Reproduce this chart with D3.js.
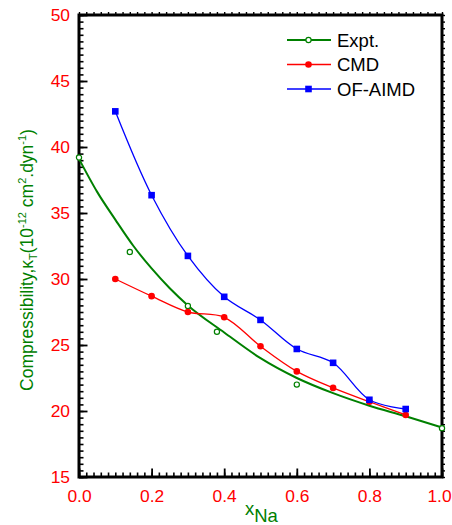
<!DOCTYPE html>
<html>
<head>
<meta charset="utf-8">
<script src="https://cdn.jsdelivr.net/npm/d3@7/dist/d3.min.js"></script>
<style>
  html, body { margin: 0; padding: 0; background: #fff; }
  svg { display: block; font-family: "Liberation Sans", Arial, sans-serif; }
</style>
</head>
<body>
<svg id="chart" width="452" height="525"></svg>
<script>
// Experimental compressibility of the alloy vs. sodium concentration
const xNaExpt = [0.0, 0.14, 0.30, 0.38, 0.60, 1.0];
const kappaExpt = [39.2, 32.05, 27.95, 26.0, 22.0, 18.7];

// Smooth fit drawn through the experimental data
const xNaFit = [0.0, 0.05, 0.10, 0.15, 0.20, 0.25, 0.30, 0.40, 0.50, 0.60, 0.70, 0.80, 0.90, 1.0];
const kappaFit = [39.1, 36.6, 34.5, 32.5, 30.8, 29.3, 28.0, 25.95, 24.0, 22.5, 21.35, 20.4, 19.6, 18.75];

// Simulation results
const xNaSim = [0.1, 0.2, 0.3, 0.4, 0.5, 0.6, 0.7, 0.8, 0.9];
const kappaCMD = [30.0, 28.7, 27.5, 27.1, 24.9, 23.0, 21.75, 20.7, 19.7];
const kappaOFAIMD = [42.7, 36.35, 31.75, 28.65, 26.9, 24.7, 23.65, 20.85, 20.15];

// Axis ticks
const xTicks = [0.0, 0.2, 0.4, 0.6, 0.8, 1.0];
const yTicks = [15, 20, 25, 30, 35, 40, 45, 50];

const legendLabels = ["Expt.", "CMD", "OF-AIMD"];

const W = 452, H = 525;
const margin = { left: 79, top: 15, right: 10, bottom: 48 };
const iw = W - margin.left - margin.right;
const ih = H - margin.top - margin.bottom;

const svg = d3.select("#chart");
const g = svg.append("g").attr("transform", `translate(${margin.left},${margin.top})`);

const x = d3.scaleLinear().domain([0, 1]).range([0, iw]);
const y = d3.scaleLinear().domain([15, 50]).range([ih, 0]);

const xMinor = d3.range(0, 1.0001, 0.02).map(v => +v.toFixed(2));
const yMinor = d3.range(15, 50.001, 0.5);

const tickColor = "#ff0000";
const fs = 17.4;

function styleAxis(sel, width) {
  sel.select(".domain").remove();
  sel.selectAll(".tick line").attr("stroke", "#000").attr("stroke-width", width);
}

// Bottom axis: minor and major ticks pointing inward
g.append("g").attr("transform", `translate(0,${ih})`)
  .call(d3.axisBottom(x).tickValues(xMinor).tickFormat("").tickSize(-4.5))
  .call(s => styleAxis(s, 1.6));
g.append("g").attr("transform", `translate(0,${ih})`)
  .call(d3.axisBottom(x).tickValues(xTicks).tickFormat(d3.format(".1f")).tickSize(-8.5).tickPadding(13))
  .call(s => styleAxis(s, 1.8))
  .call(s => s.selectAll("text").attr("fill", tickColor).attr("font-size", fs)
    .attr("font-family", "Liberation Sans, Arial, sans-serif"))
  // keep the last label inside the page edge
  .call(s => s.selectAll("text").filter(d => d === 1).attr("dx", -3));

// Left axis
g.append("g")
  .call(d3.axisLeft(y).tickValues(yMinor).tickFormat("").tickSize(-4.5))
  .call(s => styleAxis(s, 1.6));
g.append("g")
  .call(d3.axisLeft(y).tickValues(yTicks).tickFormat(d3.format("d")).tickSize(-8.5).tickPadding(9))
  .call(s => styleAxis(s, 1.8))
  .call(s => s.selectAll("text").attr("fill", tickColor).attr("font-size", fs)
    .attr("font-family", "Liberation Sans, Arial, sans-serif"));

// Top and right axes: short ticks only
g.append("g")
  .call(d3.axisTop(x).tickValues(xMinor).tickFormat("").tickSize(3))
  .call(s => styleAxis(s, 1.4));
g.append("g").attr("transform", `translate(${iw},0)`)
  .call(d3.axisRight(y).tickValues(yMinor).tickFormat("").tickSize(3))
  .call(s => styleAxis(s, 1.4));

// Frame
g.append("rect").attr("x", 0).attr("y", 0).attr("width", iw).attr("height", ih)
  .attr("fill", "none").attr("stroke", "#000").attr("stroke-width", 3);

// Series
const green = "#008000", red = "#ff0000", blue = "#0000ff";

const fitLine = d3.line().x(d => x(d[0])).y(d => y(d[1])).curve(d3.curveMonotoneX);
const simLine = d3.line().x(d => x(d[0])).y(d => y(d[1])).curve(d3.curveCatmullRom.alpha(0.5));

g.append("path").datum(d3.zip(xNaFit, kappaFit))
  .attr("d", fitLine).attr("fill", "none").attr("stroke", green).attr("stroke-width", 2);

g.append("path").datum(d3.zip(xNaSim, kappaCMD))
  .attr("d", simLine).attr("fill", "none").attr("stroke", red).attr("stroke-width", 1.3);

g.append("path").datum(d3.zip(xNaSim, kappaOFAIMD))
  .attr("d", simLine).attr("fill", "none").attr("stroke", blue).attr("stroke-width", 1.3);

g.selectAll(".expt").data(d3.zip(xNaExpt, kappaExpt)).join("circle")
  .attr("cx", d => x(d[0])).attr("cy", d => y(d[1])).attr("r", 2.6)
  .attr("fill", "#fff").attr("stroke", green).attr("stroke-width", 1.2);

g.selectAll(".cmd").data(d3.zip(xNaSim, kappaCMD)).join("circle")
  .attr("cx", d => x(d[0])).attr("cy", d => y(d[1])).attr("r", 3.3)
  .attr("fill", red);

g.selectAll(".aimd").data(d3.zip(xNaSim, kappaOFAIMD)).join("rect")
  .attr("x", d => x(d[0]) - 3.3).attr("y", d => y(d[1]) - 3.3)
  .attr("width", 6.6).attr("height", 6.6).attr("fill", blue);

// Legend
const legend = svg.append("g");
const legendColors = [green, red, blue];
const legendY = [40, 64.5, 89];
legendLabels.forEach((lab, i) => {
  const ly = legendY[i];
  legend.append("line").attr("x1", 287).attr("x2", 331).attr("y1", ly).attr("y2", ly)
    .attr("stroke", legendColors[i]).attr("stroke-width", i === 0 ? 2 : 1.3);
  if (i === 0) {
    legend.append("circle").attr("cx", 308.5).attr("cy", ly).attr("r", 2.6)
      .attr("fill", "#fff").attr("stroke", green).attr("stroke-width", 1.2);
  } else if (i === 1) {
    legend.append("circle").attr("cx", 308.5).attr("cy", ly).attr("r", 3.3).attr("fill", red);
  } else {
    legend.append("rect").attr("x", 305.2).attr("y", ly - 3.3).attr("width", 6.6).attr("height", 6.6).attr("fill", blue);
  }
  legend.append("text").attr("x", 337).attr("y", ly + 6.6)
    .attr("font-size", 18.5).attr("fill", "#000").text(lab);
});

// Axis titles
const xt = svg.append("text").attr("x", 245).attr("y", 515)
  .attr("font-size", 18.5).attr("fill", green);
xt.append("tspan").text("x");
xt.append("tspan").attr("dy", 6.7).text("Na");

const yt = svg.append("text")
  .attr("transform", "translate(33,260) rotate(-90)")
  .attr("text-anchor", "middle").attr("font-size", 17.5).attr("fill", green);
yt.append("tspan").text("Compressibility,\u03BA");
yt.append("tspan").attr("font-size", 11).attr("dy", 4).text("T");
yt.append("tspan").attr("dy", -4).text("(10");
yt.append("tspan").attr("font-size", 11).attr("dy", -7).text("-12");
yt.append("tspan").attr("dy", 7).text(" cm");
yt.append("tspan").attr("font-size", 11).attr("dy", -7).text("2");
yt.append("tspan").attr("dy", 7).text(".dyn");
yt.append("tspan").attr("font-size", 11).attr("dy", -7).text("-1");
yt.append("tspan").attr("dy", 7).text(")");
</script>
</body>
</html>
